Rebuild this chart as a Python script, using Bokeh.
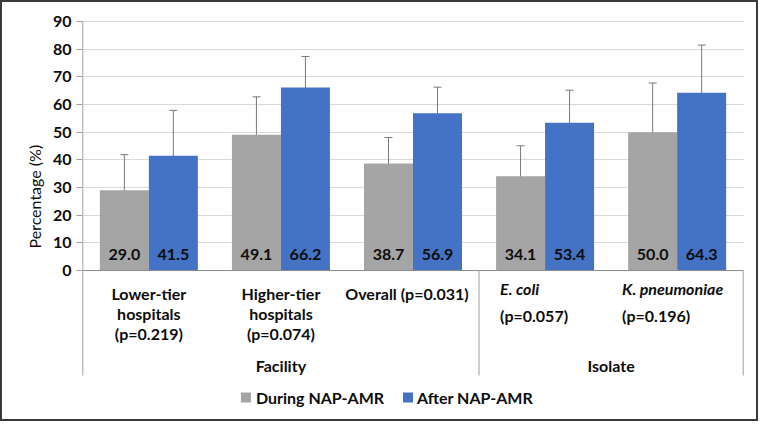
import math
from bokeh.plotting import figure
from bokeh.models import Range1d, FixedTicker, ColumnDataSource, Whisker, TeeHead, Title
from bokeh.core.properties import value
from bokeh.embed import file_html
from bokeh.resources import INLINE

# ---------------- data ----------------
categories = ["Lower-tier hospitals (p=0.219)", "Higher-tier hospitals (p=0.074)",
              "Overall (p=0.031)", "E. coli (p=0.057)", "K. pneumoniae (p=0.196)"]
cat_lines = [["Lower-tier", "hospitals", "(p=0.219)"],
             ["Higher-tier", "hospitals", "(p=0.074)"],
             ["Overall (p=0.031)"],
             ["E. coli", "(p=0.057)"],
             ["K. pneumoniae", "(p=0.196)"]]
supergroups = ["Facility", "Isolate"]
series_names = ["During NAP-AMR", "After NAP-AMR"]
during = [29.0, 49.1, 38.7, 34.1, 50.0]
after = [41.5, 66.2, 56.9, 53.4, 64.3]
during_lo = [18.2, 35.6, 29.7, 24.3, 32.4]
during_hi = [41.9, 62.8, 48.1, 45.1, 67.8]
after_lo = [26.5, 53.5, 46.9, 41.4, 44.0]
after_hi = [57.9, 77.4, 66.3, 65.2, 81.5]
y_ticks = [0, 10, 20, 30, 40, 50, 60, 70, 80, 90]
y_title = "Percentage (%)"

# ---------------- styling / layout ----------------
GRAY = "#A5A5A5"
BLUE = "#4472C4"
ERR = "#7a7a7a"
LINE = "#a0a0a0"
TXT = "#0d0d0d"
FONT = value("Lato")
FS = "16px"

PPU = 249 / 90.0          # pixels per y unit
Y0_IMG = 270               # image y of value 0
def ydat(img_y):
    return (Y0_IMG - img_y) / PPU
def xdat(img_x):
    return (img_x - 82) / 132.0

y_end = 90.4
y_start = ydat(412)
box_bottom = ydat(375)

p = figure(width=758, height=421, output_backend="svg", toolbar_location=None,
           x_range=Range1d(-0.01, 5.01), y_range=Range1d(y_start, y_end),
           x_axis_location=None, min_border_left=79, min_border_right=16,
           min_border_top=18, min_border_bottom=11,
           styles={"border": "2px solid #3a3a3a"})
p.outline_line_color = None
p.background_fill_color = "white"
p.border_fill_color = "white"
p.xgrid.visible = False
p.ygrid.ticker = FixedTicker(ticks=y_ticks)
p.ygrid.grid_line_color = "#d9d9d9"
p.ygrid.grid_line_width = 1

ax = p.yaxis[0]
ax.ticker = FixedTicker(ticks=y_ticks)
ax.axis_line_color = None
ax.major_tick_out = 5
ax.major_tick_in = 1
ax.minor_tick_line_color = None
ax.major_tick_line_color = LINE
ax.major_label_text_font = "Lato"
ax.major_label_text_font_style = "bold"
ax.major_label_text_font_size = FS
ax.major_label_text_color = TXT
ax.major_label_standoff = 5

# y axis title (vertical, shifted up like the reference)
p.add_layout(Title(text=y_title, align="left", offset=164, text_font="Lato",
                   text_font_size=FS, text_font_style="normal", text_color=TXT,
                   standoff=12), "left")

# bars
bw = 0.371
off = 0.1855
xs_d = [i + 0.5 - off for i in range(len(categories))]
xs_a = [i + 0.5 + off for i in range(len(categories))]
p.vbar(x=xs_d, top=during, bottom=0, width=bw, fill_color=GRAY, line_color=None)
p.vbar(x=xs_a, top=after, bottom=0, width=bw, fill_color=BLUE, line_color=None)

# error bars
for xs, lo, hi in [(xs_d, during_lo, during_hi), (xs_a, after_lo, after_hi)]:
    src = ColumnDataSource(dict(x=xs, lo=lo, hi=hi))
    w = Whisker(source=src, base="x", lower="lo", upper="hi",
                line_color=ERR, line_width=1,
                lower_head=TeeHead(size=8, line_color=ERR, line_width=1),
                upper_head=TeeHead(size=8, line_color=ERR, line_width=1))
    p.add_layout(w)

# value labels
p.text(x=xs_d, y=[ydat(254)] * 5, text=[f"{v:.1f}" for v in during],
       text_font=FONT, text_font_style="bold", text_font_size=FS,
       text_color=TXT, text_align="center", text_baseline="middle")
p.text(x=xs_a, y=[ydat(254)] * 5, text=[f"{v:.1f}" for v in after],
       text_font=FONT, text_font_style="bold", text_font_size=FS,
       text_color=TXT, text_align="center", text_baseline="middle")

# axis lines and category box
p.segment(x0=[0], y0=[0], x1=[5], y1=[0], line_color="#8c8c8c", line_width=1)
p.segment(x0=[0, 3, 5], y0=[90, 0, 0], x1=[0, 3, 5], y1=[box_bottom] * 3,
          line_color=LINE, line_width=1)

# category labels
def put(x, y, t, align="center", italic=False):
    p.text(x=[x], y=[y], text=[t], text_font=FONT,
           text_font_style="bold italic" if italic else "bold",
           text_font_size=FS, text_color=TXT, text_align=align,
           text_baseline="middle")

for i in (0, 1):
    for j, t in enumerate(cat_lines[i]):
        put(i + 0.5, ydat(293 + 20 * j), t)
put(xdat(406), ydat(293), cat_lines[2][0])
put(xdat(499), ydat(288), cat_lines[3][0], align="left", italic=True)
put(xdat(499), ydat(315), cat_lines[3][1], align="left")
put(xdat(621), ydat(288), cat_lines[4][0], align="left", italic=True)
put(xdat(621), ydat(315), cat_lines[4][1], align="left")
put(1.5, ydat(365), supergroups[0])
put(4.0, ydat(365), supergroups[1])

# legend
p.scatter(x=[xdat(245)], y=[ydat(397)], marker="square", size=10,
          fill_color=GRAY, line_color=None)
put(xdat(255), ydat(397), series_names[0], align="left")
p.scatter(x=[xdat(407)], y=[ydat(397)], marker="square", size=10,
          fill_color=BLUE, line_color=None)
put(xdat(416), ydat(397), series_names[1], align="left")

open("out.html", "w").write(file_html(p, INLINE))
